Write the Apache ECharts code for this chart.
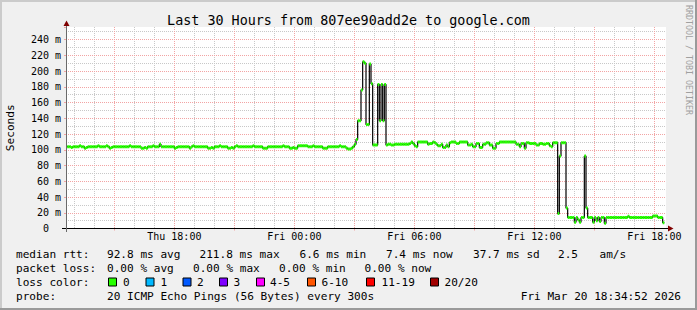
<!DOCTYPE html>
<html>
<head>
<meta charset="utf-8">
<script src="https://cdn.jsdelivr.net/npm/echarts@6/dist/echarts.min.js"></script>
<style>
html,body{margin:0;padding:0;background:#f0f0f0;}
#chart{width:697px;height:310px;}
</style>
</head>
<body>
<div id="chart"></div>
<script>
// ---------------- data ----------------
const titleText = 'Last 30 Hours from 807ee90add2e to google.com';
const yAxisName = 'Seconds';
const watermarkText = 'RRDTOOL / TOBI OETIKER';

// 5-minute samples, Thu 12:35 .. Fri 18:35 (361 slots)
const startDay = ['Thu', 'Fri'];
const startMinuteOfDay = 12 * 60 + 35;
const stepMinutes = 5;
const slotCount = 361;

// x-axis tick labels (every 6 hours)
const timeLabels = ['Thu 18:00', 'Fri 00:00', 'Fri 06:00', 'Fri 12:00', 'Fri 18:00'];

// y-axis tick values (ms)
const yTickValues = [0, 20, 40, 60, 80, 100, 120, 140, 160, 180, 200, 220, 240];
const yMaxValue = 256;

// median RTT in ms, one value per 5-minute sample (null = unknown)
const medianRtt = [
  104,
  104,104,104,103,104,104,104,104,105,104,
  104,102,103,104,104,104,104,104,104,105,
  104,104,104,104,105,104,102,103,104,104,
  104,104,104,104,104,104,104,104,105,104,
  104,104,104,104,104,102,102,103,102,104,
  104,104,105,104,104,104,107,104,104,104,
  104,104,104,104,104,102,103,104,104,104,
  104,104,104,104,102,104,105,104,104,104,
  104,104,104,104,104,102,102,103,102,104,
  104,104,105,104,104,104,104,102,102,103,
  102,104,105,104,104,104,104,104,104,104,
  104,104,105,104,104,104,104,104,102,102,
  102,104,104,104,104,104,104,104,104,104,
  105,104,104,104,102,102,103,102,102,105,
  105,105,105,105,105,104,104,104,105,104,
  104,104,104,104,102,102,102,104,104,104,
  104,104,104,104,105,104,104,104,102,101,
  101,102,104,107,113,137,137,176,211.8,210,
  132,132,209,184,106,106,106,183,137,183,
  137,183,106,107,107,106,106,107,107,107,
  107,107,107,107,107,107,108,110,108,105,
  104,110,110,110,110,110,110,107,108,108,
  110,109,107,105,105,107,103,103,106,104,
  109,110,110,110,108,108,110,110,110,110,
  110,106,106,107,104,104,108,108,103,103,
  107,107,109,109,106,106,102,102,108,108,
  110,110,110,110,110,110,110,110,110,110,
  107,107,104,108,108,102,109,109,108,108,
  108,108,106,106,108,108,107,107,108,108,
  105,104,109,109,109,19,92,109,109,109,
  26,14,14,14,14,8,14,11,8,14,
  14,92,26,14,14,14,8,14,10,14,
  9,14,14,6.6,14,14,14,14,14,14,
  14,14,14,14,14,14,14,15.5,14,14,
  14,14,14,14,14,14,14,14,14,14,
  14,14,16,16,16,14,14,14,7.4,
  null
];

// legend / statistics text
const statRow1 = ['median rtt:', '92.8 ms avg', '211.8 ms max', '6.6 ms min', '7.4 ms now', '37.7 ms sd', '2.5', 'am/s'];
const statRow2 = ['packet loss:', '0.00 % avg', '0.00 % max', '0.00 % min', '0.00 % now'];
const lossTitle = 'loss color:';
const lossLabels = ['0', '1', '2', '3', '4-5', '6-10', '11-19', '20/20'];
const lossColors = ['#26ff00', '#00b8ff', '#0059ff', '#7e00ff', '#ff00ff', '#ff5500', '#ff0000', '#a10000'];
const probeRow = ['probe:', '20 ICMP Echo Pings (56 Bytes) every 300s'];
const dateText = 'Fri Mar 20 18:34:52 2026';

// ---------------- layout / style ----------------
const MONO = '"DejaVu Sans Mono", "Liberation Mono", monospace';
const GRID = {left: 66, right: 31, top: 27, bottom: 81.5};
const minorColor = '#c8c8c8';
const majorColor = '#f2a4a4';
const legendFont = 11.1;
const row1X = [16, 107, 199.5, 299.5, 386, 473, 558, 599.5];
const row2X = [16, 107, 193, 279, 364.5];
const lossBoxX = [108.5, 146, 183, 219.5, 256.5, 307.5, 366.5, 430.5];
const lossTextX = [123, 160.5, 197, 233.5, 270, 321.5, 381.5, 444.5];
const rowY = [254.5, 268.5, 282.5, 296.5];

// categories (timestamps of each sample slot)
const categories = [];
for (let k = 0; k < slotCount; k++) {
  const m = startMinuteOfDay + k * stepMinutes;
  const day = startDay[Math.floor(m / 1440)];
  const mm = m % 1440;
  categories.push(day + ' ' + String(Math.floor(mm / 60)).padStart(2, '0') + ':' + String(mm % 60).padStart(2, '0'));
}
const isHour = (idx, val) => typeof val === 'string' && val.endsWith(':00');
const isMajor = (idx, val) => isHour(idx, val) && parseInt(val.slice(4, 6), 10) % 3 === 0;
const isLabel = (idx, val) => timeLabels.indexOf(val) >= 0;

const barData = [];
medianRtt.forEach((v, i) => { if (i > 0 && v != null) barData.push([i, v]); });

// ---------------- graphic decorations ----------------
const graphics = [];
graphics.push({type: 'rect', shape: {x: 0, y: 0, width: 697, height: 2}, style: {fill: '#cbcbcb'}, silent: true});
graphics.push({type: 'rect', shape: {x: 0, y: 0, width: 2, height: 310}, style: {fill: '#cbcbcb'}, silent: true});
graphics.push({type: 'rect', shape: {x: 0, y: 308, width: 697, height: 2}, style: {fill: '#9a9a9a'}, silent: true});
graphics.push({type: 'rect', shape: {x: 695, y: 0, width: 2, height: 310}, style: {fill: '#9a9a9a'}, silent: true});
graphics.push({type: 'line', shape: {x1: 62, y1: 228.5, x2: 669, y2: 228.5}, style: {stroke: '#000', lineWidth: 1}, silent: true, z: 50});
graphics.push({type: 'line', shape: {x1: 66.5, y1: 24, x2: 66.5, y2: 232}, style: {stroke: '#6a6a6a', lineWidth: 1}, silent: true, z: 50});
graphics.push({type: 'polygon', shape: {points: [[63.5, 26], [69.5, 26], [66.5, 20.5]]}, style: {fill: '#800000'}, silent: true, z: 51});
graphics.push({type: 'polygon', shape: {points: [[668, 225.5], [668, 231.5], [673.5, 228.5]]}, style: {fill: '#800000'}, silent: true, z: 51});
graphics.push({type: 'text', x: 688.5, y: 60, rotation: -Math.PI / 2, silent: true,
  style: {text: watermarkText, fill: '#a0a0a0', font: '8.3px ' + MONO, textAlign: 'center', textVerticalAlign: 'middle'}});
function addText(x, y, s, align) {
  graphics.push({type: 'text', x: x, y: y, silent: true,
    style: {text: s, fill: '#000', font: legendFont + 'px ' + MONO, textAlign: align || 'left', textVerticalAlign: 'middle'}});
}
statRow1.forEach((s, i) => addText(row1X[i], rowY[0], s));
statRow2.forEach((s, i) => addText(row2X[i], rowY[1], s));
addText(16, rowY[2], lossTitle);
lossLabels.forEach((s, i) => {
  graphics.push({type: 'rect', shape: {x: lossBoxX[i], y: rowY[2] - 4.5, width: 8, height: 8}, silent: true,
    style: {fill: lossColors[i], stroke: '#000', lineWidth: 1}});
  addText(lossTextX[i], rowY[2], s);
});
addText(16, rowY[3], probeRow[0]);
addText(107, rowY[3], probeRow[1]);
addText(681, rowY[3], dateText, 'right');

// ---------------- chart ----------------
const chart = echarts.init(document.getElementById('chart'), null, {renderer: 'svg'});
chart.setOption({
  animation: false,
  backgroundColor: '#f0f0f0',
  title: {
    text: titleText, left: 'center', top: 12, padding: 0,
    textStyle: {fontFamily: MONO, fontSize: 13.4, fontWeight: 'normal', color: '#000', lineHeight: 16}
  },
  grid: {left: GRID.left, right: GRID.right, top: GRID.top, bottom: GRID.bottom,
    show: true, backgroundColor: '#ffffff', borderWidth: 0, containLabel: false, outerBoundsMode: 'none'},
  xAxis: [
    {
      type: 'category', position: 'bottom', offset: 0, data: categories, boundaryGap: false,
      axisLine: {show: true, lineStyle: {color: '#000', width: 1}},
      axisTick: {show: false}, axisLabel: {show: false},
      splitLine: {show: true, interval: isHour, lineStyle: {color: minorColor, width: 1, type: [1, 1]}}
    },
    {
      type: 'category', position: 'bottom', offset: 0, data: categories, boundaryGap: false, z: 3,
      axisLine: {show: false},
      axisTick: {show: true, interval: isMajor, length: 2, inside: false, lineStyle: {color: majorColor}},
      axisLabel: {show: true, interval: isLabel, margin: 3, color: '#000', fontFamily: MONO, fontSize: 10},
      splitLine: {show: true, interval: isMajor, lineStyle: {color: majorColor, width: 1, type: [1, 1]}}
    }
  ],
  yAxis: [
    {
      type: 'value', position: 'left', offset: 0, min: 0, max: yMaxValue, interval: 10,
      axisLine: {show: false}, axisTick: {show: false}, axisLabel: {show: false},
      splitLine: {show: true, showMinLine: false, showMaxLine: false, lineStyle: {color: minorColor, width: 1, type: [1, 1]}}
    },
    {
      type: 'value', position: 'left', offset: 0, min: 0, max: yMaxValue, interval: 20, z: 3,
      name: yAxisName, nameLocation: 'middle', nameGap: 50, nameRotate: 90,
      nameTextStyle: {fontFamily: MONO, fontSize: 11.1, color: '#000'},
      axisLine: {show: true, lineStyle: {color: '#6a6a6a', width: 1}},
      axisTick: {show: true, length: 2, lineStyle: {color: majorColor}},
      axisLabel: {
        show: true, margin: 5, color: '#000', fontFamily: MONO, fontSize: 10,
        formatter: v => (yTickValues.indexOf(v) < 0 ? '' : (v === 0 ? '{z|0}' : v + ' m')),
        rich: {z: {fontFamily: MONO, fontSize: 10, color: '#000', padding: [0, 12, 0, 0]}}
      },
      splitLine: {show: true, showMinLine: false, showMaxLine: false, lineStyle: {color: majorColor, width: 1, type: [1, 1]}}
    }
  ],
  series: [
    {
      type: 'line', xAxisIndex: 0, yAxisIndex: 0, data: medianRtt, step: 'start',
      symbol: 'none', connectNulls: false, z: 4,
      lineStyle: {color: '#000000', width: 1.2}
    },
    {
      type: 'custom', xAxisIndex: 0, yAxisIndex: 0, data: barData, z: 5, clip: true,
      encode: {x: 0, y: 1},
      renderItem: function (params, api) {
        const i = api.value(0);
        const v = api.value(1);
        const a = api.coord([i - 1, v]);
        const b = api.coord([i, v]);
        return {type: 'rect', shape: {x: a[0], y: a[1] - 1.5, width: b[0] - a[0], height: 3},
          style: {fill: lossColors[0]}};
      }
    }
  ],
  graphic: graphics
});
</script>
</body>
</html>
